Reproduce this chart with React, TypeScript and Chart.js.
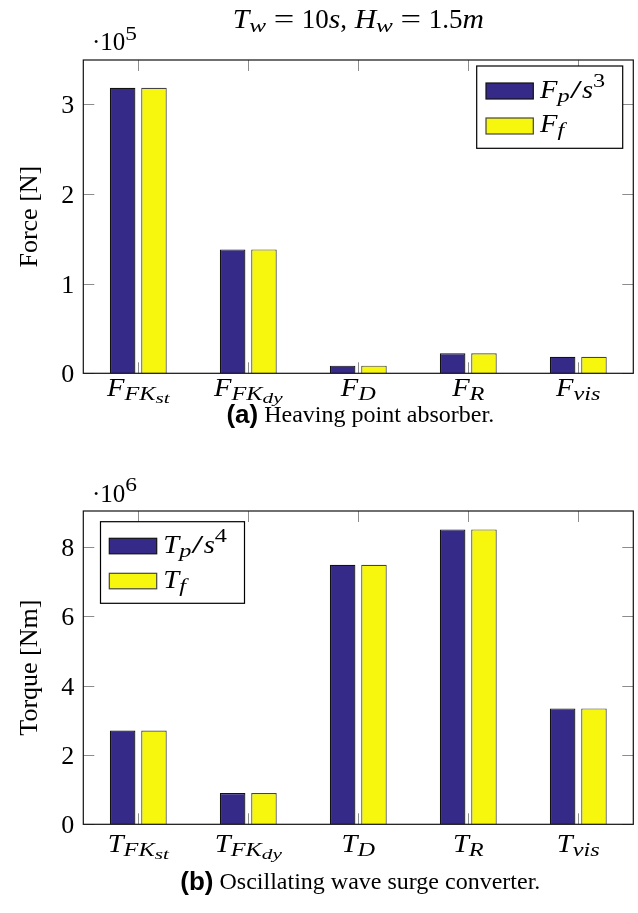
import React, { useEffect, useRef } from 'react';
import { Chart, registerables } from 'chart.js';

Chart.register(...registerables);

// ---------- data ----------
const chartTitle = 'T_w = 10s, H_w = 1.5m';

const categoriesA = ['F_{FK_{st}}', 'F_{FK_{dy}}', 'F_D', 'F_R', 'F_{vis}'];
const seriesNamesA = ['F_p/s^3', 'F_f'];
const peakForceA = [3.18e5, 1.38e5, 0.085e5, 0.223e5, 0.185e5];
const fForceA = [3.18e5, 1.38e5, 0.085e5, 0.223e5, 0.185e5];
const yTicksA = [0, 1e5, 2e5, 3e5];
const yTickLabelsA = ['0', '1', '2', '3'];
const yMaxA = 3.49e5;
const yTitleA = 'Force [N]';
const multiplierA = '·10^5';
const captionTagA = '(a)';
const captionA = 'Heaving point absorber.';

const categoriesB = ['T_{FK_{st}}', 'T_{FK_{dy}}', 'T_D', 'T_R', 'T_{vis}'];
const seriesNamesB = ['T_p/s^4', 'T_f'];
const peakTorqueB = [2.7e6, 0.9e6, 7.48e6, 8.5e6, 3.34e6];
const fTorqueB = [2.7e6, 0.9e6, 7.48e6, 8.5e6, 3.34e6];
const yTicksB = [0, 2e6, 4e6, 6e6, 8e6];
const yTickLabelsB = ['0', '2', '4', '6', '8'];
const yMaxB = 9.03e6;
const yTitleB = 'Torque [Nm]';
const multiplierB = '·10^6';
const captionTagB = '(b)';
const captionB = 'Oscillating wave surge converter.';

// ---------- styles ----------
const DARK = '#352a87';
const YELLOW = '#f7f70e';
const SERIF = '"Liberation Serif", "Times New Roman", serif';
const SANS = '"Liberation Sans", Arial, sans-serif';

type Seg = { text: string; italic: boolean; size: number; dy: number; sx: number; space?: boolean };

const DEPTH_SX = [1.1, 1.3, 1.5];

function parseTex(src: string, size: number, dy: number, depth: number, out: Seg[]) {
  let i = 0;
  while (i < src.length) {
    const c = src[i];
    if (c === '_' || c === '^') {
      i++;
      let group = '';
      if (src[i] === '{') {
        let d = 1;
        let j = i + 1;
        while (j < src.length && d > 0) {
          if (src[j] === '{') d++;
          else if (src[j] === '}') d--;
          j++;
        }
        group = src.slice(i + 1, j - 1);
        i = j;
      } else {
        group = src[i];
        i++;
      }
      const ns = size * (depth === 0 ? 0.72 : 0.76);
      const ndy = c === '_' ? dy + size * 0.15 : dy - size * 0.42;
      parseTex(group, ns, ndy, depth + 1, out);
    } else {
      const italic = /[A-Za-z]/.test(c);
      const space = c === ' ';
      let sx = italic ? DEPTH_SX[Math.min(depth, 2)] : depth === 0 ? 1 : DEPTH_SX[Math.min(depth, 2)];
      if (c === '/') sx = 1.7;
      if (c === '=') sx = 1.35;
      const last = out[out.length - 1];
      if (!space && last && !last.space && last.italic === italic && last.size === size && last.dy === dy && last.sx === sx) last.text += c;
      else out.push({ text: c, italic, size, dy, sx, space });
      i++;
    }
  }
}

function fontFor(s: Seg) {
  return `${s.italic ? 'italic ' : ''}${s.size}px ${SERIF}`;
}

function segWidth(ctx: CanvasRenderingContext2D, s: Seg) {
  if (s.space) return s.size * 0.28;
  ctx.font = fontFor(s);
  return ctx.measureText(s.text).width * s.sx;
}

function drawTex(ctx: CanvasRenderingContext2D, src: string, x: number, y: number, size: number, align: 'left' | 'center' | 'right' = 'left') {
  const segs: Seg[] = [];
  parseTex(src, size, 0, 0, segs);
  const widths = segs.map((s) => segWidth(ctx, s));
  const w = widths.reduce((a, b) => a + b, 0);
  let cx = align === 'center' ? x - w / 2 : align === 'right' ? x - w : x;
  ctx.fillStyle = '#000';
  ctx.textAlign = 'left';
  ctx.textBaseline = 'alphabetic';
  segs.forEach((s, i) => {
    if (!s.space) {
      ctx.save();
      ctx.font = fontFor(s);
      ctx.translate(cx, y + s.dy);
      ctx.scale(s.sx, 1);
      ctx.fillText(s.text, 0, 0);
      ctx.restore();
    }
    cx += widths[i];
  });
}

type PanelCfg = {
  height: number;
  plotTop: number;
  plotBottom: number;
  categories: string[];
  seriesNames: string[];
  series: number[][];
  yTicks: number[];
  yTickLabels: string[];
  yMax: number;
  yTitle: string;
  multiplier: string;
  multiplierBaseline: number;
  captionTag: string;
  caption: string;
  captionBaseline: number;
  xLabelBaseline: number;
  legend: { x: number; y: number; w: number; h: number; swX: number; swW: number; swH: number; swY: number[]; txtX: number; txtY: number[] };
  title?: string;
};

const panelA: PanelCfg = {
  height: 456,
  plotTop: 60,
  plotBottom: 373.3,
  categories: categoriesA,
  seriesNames: seriesNamesA,
  series: [peakForceA, fForceA],
  yTicks: yTicksA,
  yTickLabels: yTickLabelsA,
  yMax: yMaxA,
  yTitle: yTitleA,
  multiplier: multiplierA,
  multiplierBaseline: 50,
  captionTag: captionTagA,
  caption: captionA,
  captionBaseline: 423,
  xLabelBaseline: 396,
  legend: { x: 476.7, y: 66, w: 146, h: 82.3, swX: 486, swW: 47.3, swH: 16, swY: [83, 118], txtX: 540, txtY: [98, 132] },
  title: chartTitle,
};

const panelB: PanelCfg = {
  height: 457,
  plotTop: 55,
  plotBottom: 368.3,
  categories: categoriesB,
  seriesNames: seriesNamesB,
  series: [peakTorqueB, fTorqueB],
  yTicks: yTicksB,
  yTickLabels: yTickLabelsB,
  yMax: yMaxB,
  yTitle: yTitleB,
  multiplier: multiplierB,
  multiplierBaseline: 45.7,
  captionTag: captionTagB,
  caption: captionB,
  captionBaseline: 434,
  xLabelBaseline: 396,
  legend: { x: 100.5, y: 65.7, w: 144, h: 81.6, swX: 109.3, swW: 47.4, swH: 15.5, swY: [82.3, 117.3], txtX: 163.3, txtY: [97, 132] },
};

function makePlugin(cfg: PanelCfg) {
  return {
    id: 'pgfDecor',
    afterDraw(chart: any) {
      const ctx: CanvasRenderingContext2D = chart.ctx;
      const { left, right, top, bottom } = chart.chartArea;
      const xs = chart.scales.x;
      const ys = chart.scales.y;
      const TICK = 11;
      ctx.save();
      const line = (x1: number, y1: number, x2: number, y2: number) => {
        ctx.beginPath();
        ctx.moveTo(x1, y1);
        ctx.lineTo(x2, y2);
        ctx.stroke();
      };
      // tick marks
      ctx.strokeStyle = '#8c8c8c';
      ctx.lineWidth = 1;
      cfg.yTicks.forEach((v) => {
        const y = Math.round(ys.getPixelForValue(v)) + 0.5;
        line(left, y, left + TICK, y);
        line(right - TICK, y, right, y);
      });
      cfg.categories.forEach((_, i) => {
        const x = Math.round(xs.getPixelForValue(i)) + 0.5;
        line(x, bottom, x, bottom - TICK);
        line(x, top, x, top + TICK);
      });
      // frame
      ctx.strokeStyle = '#111';
      ctx.lineWidth = 1.2;
      ctx.strokeRect(left, top, right - left, bottom - top);

      // y tick labels
      cfg.yTicks.forEach((v, i) => {
        const y = ys.getPixelForValue(v);
        drawTex(ctx, cfg.yTickLabels[i], left - 9, y + 9, 26, 'right');
      });
      // multiplier
      drawTex(ctx, cfg.multiplier, 92, cfg.multiplierBaseline, 25, 'left');
      // x labels
      cfg.categories.forEach((c, i) => {
        const x = xs.getPixelForValue(i);
        drawTex(ctx, c, x, cfg.xLabelBaseline, 26, 'center');
      });
      // y title
      ctx.save();
      ctx.translate(30, (top + bottom) / 2);
      ctx.rotate(-Math.PI / 2);
      ctx.font = `26px ${SERIF}`;
      ctx.fillStyle = '#000';
      ctx.textAlign = 'center';
      ctx.textBaseline = 'middle';
      ctx.fillText(cfg.yTitle, 0, 0);
      ctx.restore();
      // title
      if (cfg.title) drawTex(ctx, cfg.title, (left + right) / 2, 28, 27, 'center');
      // caption
      const tagFont = `bold 26px ${SANS}`;
      const capFont = `24px ${SERIF}`;
      ctx.font = tagFont;
      const tagW = ctx.measureText(cfg.captionTag).width;
      ctx.font = capFont;
      const capW = ctx.measureText(' ' + cfg.caption).width;
      const total = tagW + capW;
      const cx0 = (left + right) / 2 + 2 - total / 2;
      ctx.fillStyle = '#000';
      ctx.textAlign = 'left';
      ctx.textBaseline = 'alphabetic';
      ctx.font = tagFont;
      ctx.fillText(cfg.captionTag, cx0, cfg.captionBaseline);
      ctx.font = capFont;
      ctx.fillText(' ' + cfg.caption, cx0 + tagW, cfg.captionBaseline - 1);
      // legend
      const L = cfg.legend;
      ctx.fillStyle = '#fff';
      ctx.fillRect(L.x, L.y, L.w, L.h);
      ctx.strokeStyle = '#000';
      ctx.lineWidth = 1.2;
      ctx.strokeRect(L.x, L.y, L.w, L.h);
      chart.data.datasets.forEach((ds: any, i: number) => {
        ctx.fillStyle = ds.backgroundColor;
        ctx.fillRect(L.swX, L.swY[i], L.swW, L.swH);
        ctx.strokeStyle = ds.borderColor;
        ctx.lineWidth = 1.2;
        ctx.strokeRect(L.swX, L.swY[i], L.swW, L.swH);
        drawTex(ctx, cfg.seriesNames[i], L.txtX, L.txtY[i], 26, 'left');
      });
      ctx.restore();
    },
  };
}

function Panel({ cfg }: { cfg: PanelCfg }) {
  const ref = useRef<HTMLCanvasElement | null>(null);
  useEffect(() => {
    if (!ref.current) return;
    const chart = new Chart(ref.current, {
      type: 'bar',
      data: {
        labels: cfg.categories,
        datasets: [
          { label: cfg.seriesNames[0], data: cfg.series[0], backgroundColor: DARK, borderColor: '#111', borderWidth: 1.2 },
          { label: cfg.seriesNames[1], data: cfg.series[1], backgroundColor: YELLOW, borderColor: '#444', borderWidth: 1.2 },
        ],
      },
      options: {
        responsive: false,
        animation: false,
        devicePixelRatio: 1,
        layout: { padding: { left: 83.3, right: 638 - 633.3, top: cfg.plotTop, bottom: cfg.height - cfg.plotBottom } },
        plugins: { legend: { display: false }, tooltip: { enabled: false }, title: { display: false } },
        datasets: { bar: { categoryPercentage: 0.57, barPercentage: 0.815 } },
        scales: {
          x: { display: false, offset: true },
          y: { display: false, min: 0, max: cfg.yMax },
        },
      } as any,
      plugins: [makePlugin(cfg)],
    });
    return () => chart.destroy();
  }, [cfg]);
  return <canvas ref={ref} width={638} height={cfg.height} style={{ display: 'block', width: 638, height: cfg.height }} />;
}

export default function App() {
  return (
    <div style={{ position: 'absolute', left: 0, top: 0, width: 638, height: 913, background: '#fff' }}>
      <Panel cfg={panelA} />
      <Panel cfg={panelB} />
    </div>
  );
}
